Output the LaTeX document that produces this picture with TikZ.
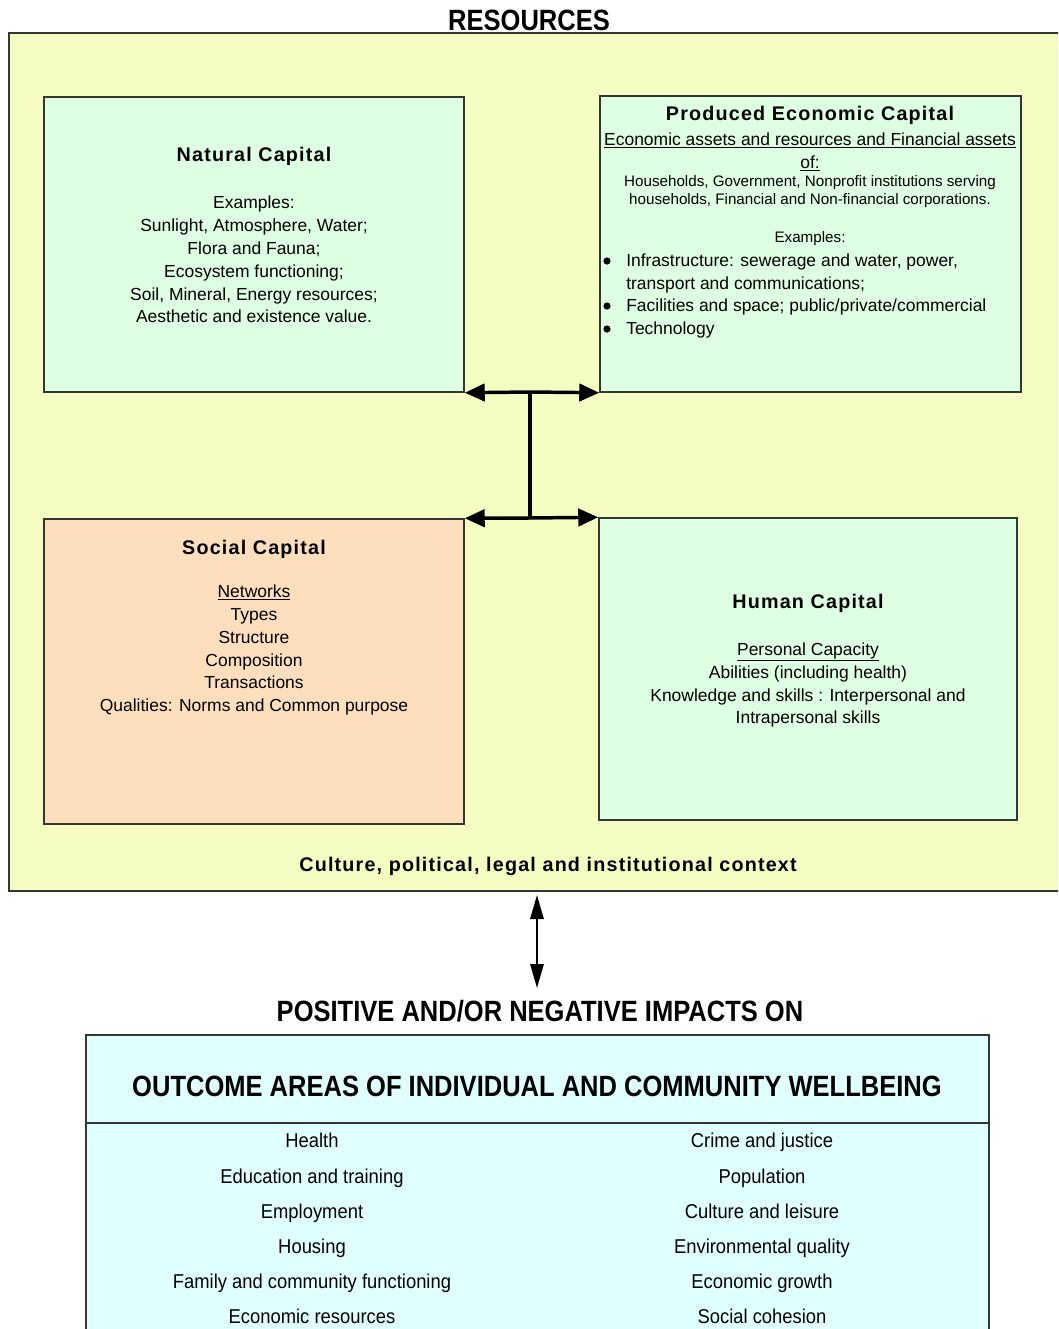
\documentclass[tikz,border=0pt]{standalone}
\usepackage{fontspec}
\setmainfont{Liberation Sans}
\newfontfamily\titlefont[LetterSpace=6]{Liberation Sans Bold}
\newfontfamily\capsfont[FakeStretch=0.87]{Liberation Sans Bold}
\newfontfamily\condfont[FakeStretch=0.92]{Liberation Sans}
\usetikzlibrary{arrows.meta,fit}
\definecolor{ylw}{RGB}{245,252,194}
\definecolor{grn}{RGB}{222,255,226}
\definecolor{pch}{RGB}{253,223,190}
\definecolor{cyn}{RGB}{224,255,255}
\definecolor{edge}{RGB}{50,55,50}
\tikzset{
  box/.style={draw=edge, line width=1.1pt, inner sep=0pt},
  ttl/.style={font=\titlefont\fontsize{14.8}{17}\selectfont, anchor=base},
  body/.style={font=\fontsize{13.1}{15}\selectfont, anchor=base},
  smalltxt/.style={font=\fontsize{11.4}{13}\selectfont, anchor=base},
  ctitle/.style={font=\capsfont\fontsize{22}{26}\selectfont, anchor=base},
  outc/.style={font=\condfont\fontsize{15}{17}\selectfont, anchor=base},
  bigarrow/.style={line width=2.6pt, -{Triangle[length=15pt,width=13pt]}},
  thinarrow/.style={line width=1.5pt, {Triangle[length=18pt,width=10pt]}-{Triangle[length=18pt,width=10pt]}},
}
\begin{document}
\begin{tikzpicture}[x=0.75pt,y=-0.75pt]
\useasboundingbox (0,0) rectangle (1058,1329);
\clip (0,0) rectangle (1058,1329);

% top heading
\node[ctitle] (res) at (529,30) {RESOURCES};

% outer resources panel
\node[box, fill=ylw, fit={(9,33) (1075,891)}] (panel) {};

% four capital boxes
\node[box, fill=grn, fit={(44,97) (464,392)}] (nat) {};
\node[box, fill=grn, fit={(600,96) (1021,392)}] (prod) {};
\node[box, fill=pch, fit={(44,519) (464,824)}] (soc) {};
\node[box, fill=grn, fit={(599,518) (1017,820)}] (hum) {};

% Natural capital
\node[ttl] (natT) at (254,161) {Natural Capital};
\node[body] (n1) at (254,208) {Examples:};
\node[body] (n2) at (254,231) {Sunlight, Atmosphere, Water;};
\node[body] (n3) at (254,254) {Flora and Fauna;};
\node[body] (n4) at (254,277) {Ecosystem functioning;};
\node[body] (n5) at (254,300) {Soil, Mineral, Energy resources;};
\node[body] (n6) at (254,322) {Aesthetic and existence value.};

% Produced economic capital
\node[ttl] (prodT) at (810,120) {Produced Economic Capital};
\node[body] (p1) at (810,145) {\underline{Economic assets and resources and Financial assets}};
\node[body] (p2) at (810,168) {\underline{of:}};
\node[smalltxt] (p3) at (810,186) {Households, Government, Nonprofit institutions serving};
\node[smalltxt] (p4) at (810,204) {households, Financial and Non-financial corporations.};
\node[smalltxt] (p5) at (810,242) {Examples:};
\fill (607,261) circle (3.6);
\fill (607,306) circle (3.6);
\fill (607,329) circle (3.6);
\node[body, anchor=base west, inner xsep=0pt] (b1) at (626,266) {Infrastructure: sewerage and water, power,};
\node[body, anchor=base west, inner xsep=0pt] (b2) at (626,289) {transport and communications;};
\node[body, anchor=base west, inner xsep=0pt] (b3) at (626,311) {Facilities and space; public/private/commercial};
\node[body, anchor=base west, inner xsep=0pt] (b4) at (626,334) {Technology};

% Social capital
\node[ttl] (socT) at (254,554) {Social Capital};
\node[body] (s1) at (254,597) {\underline{Networks}};
\node[body] (s2) at (254,620) {Types};
\node[body] (s3) at (254,643) {Structure};
\node[body] (s4) at (254,666) {Composition};
\node[body] (s5) at (254,688) {Transactions};
\node[body] (s6) at (254,711) {Qualities: Norms and Common purpose};

% Human capital
\node[ttl] (humT) at (808,608) {Human Capital};
\node[body] (h1) at (808,655) {\underline{Personal Capacity}};
\node[body] (h2) at (808,678) {Abilities (including health)};
\node[body] (h3) at (808,701) {Knowledge and skills : Interpersonal and};
\node[body] (h4) at (808,723) {Intrapersonal skills};

% context label
\node[ttl] (ctx) at (548,871) {Culture, political, legal and institutional context};

% connectors between capitals
\coordinate (jtop) at (530,392);
\coordinate (jbot) at (530,518);
\draw[line width=2.6pt] (jtop) -- (jbot);
\draw[bigarrow] (jtop) -- (nat.south east);
\draw[bigarrow] (jtop) -- (prod.south west);
\draw[bigarrow] (jbot) -- (soc.north east -| nat.east);
\draw[bigarrow] (jbot) -- (hum.north west);

% impacts arrow
\coordinate (ctxbot) at (537,895);
\coordinate (imptop) at (537,988);
\draw[thinarrow] (ctxbot) -- (imptop);

\node[ctitle] (imp) at (540,1021) {POSITIVE AND/OR NEGATIVE IMPACTS ON};

% outcome box
\node[box, fill=cyn, fit={(86,1035) (989,1345)}] (out) {};
\draw[draw=edge, line width=1.1pt] (out.west |- 0,1123) -- (out.east |- 0,1123);
\node[ctitle] (outT) at (537,1096) {OUTCOME AREAS OF INDIVIDUAL AND COMMUNITY WELLBEING};

\node[outc] (l1) at (312,1147) {Health};
\node[outc] (l2) at (312,1183) {Education and training};
\node[outc] (l3) at (312,1218) {Employment};
\node[outc] (l4) at (312,1253) {Housing};
\node[outc] (l5) at (312,1288) {Family and community functioning};
\node[outc] (l6) at (312,1323) {Economic resources};
\node[outc] (r1) at (762,1147) {Crime and justice};
\node[outc] (r2) at (762,1183) {Population};
\node[outc] (r3) at (762,1218) {Culture and leisure};
\node[outc] (r4) at (762,1253) {Environmental quality};
\node[outc] (r5) at (762,1288) {Economic growth};
\node[outc] (r6) at (762,1323) {Social cohesion};
\end{tikzpicture}
\end{document}
